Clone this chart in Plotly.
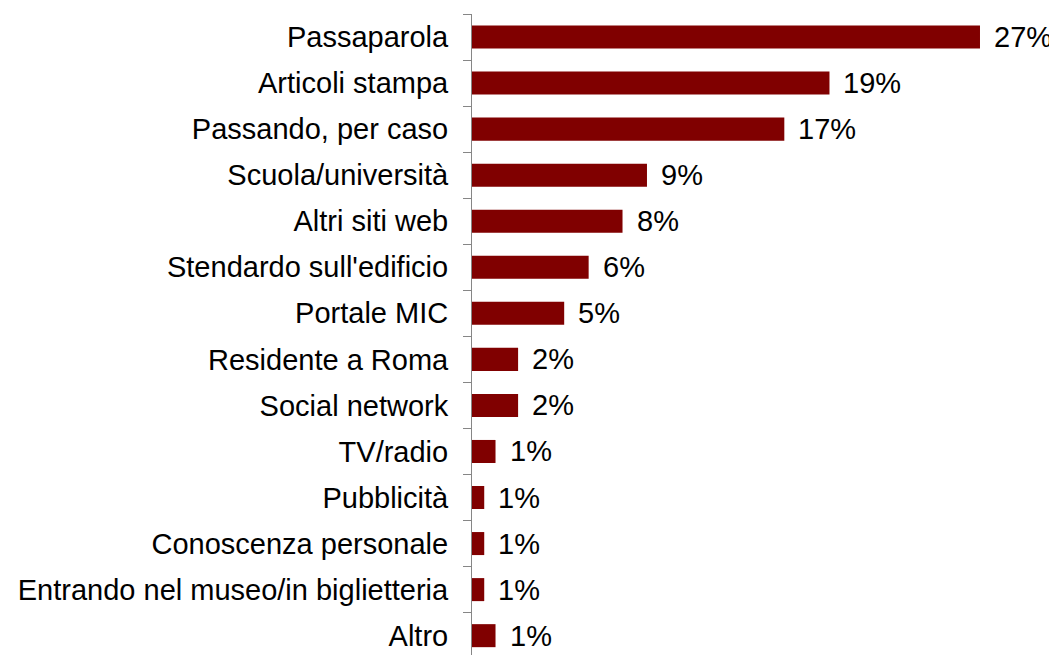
import plotly.graph_objects as go

categories = ["Passaparola", "Articoli stampa", "Passando, per caso", "Scuola/università",
              "Altri siti web", "Stendardo sull'edificio", "Portale MIC", "Residente a Roma",
              "Social network", "TV/radio", "Pubblicità", "Conoscenza personale",
              "Entrando nel museo/in biglietteria", "Altro"]
values = [27.0, 19.0, 16.6, 9.3, 8.0, 6.2, 4.9, 2.45, 2.45, 1.25, 0.65, 0.65, 0.65, 1.25]
labels = ["27%", "19%", "17%", "9%", "8%", "6%", "5%", "2%", "2%", "1%", "1%", "1%", "1%", "1%"]

FONT = "Liberation Sans, Arial, sans-serif"
SIZE = 29

fig = go.Figure(go.Bar(
    x=values, y=categories, orientation="h",
    marker=dict(color="#800000", line=dict(width=0)),
    width=0.5,
))

for c, v, t in zip(categories, values, labels):
    fig.add_annotation(x=v, y=c, text=t, showarrow=False, xanchor="left",
                       xshift=12, font=dict(family=FONT, size=SIZE, color="black"))

# page body has an 8px margin, so the figure is sized to fit the window
fig.update_layout(
    width=1049, height=647,
    margin=dict(l=464, r=20, t=6, b=0, autoexpand=False),
    plot_bgcolor="white", paper_bgcolor="white",
    showlegend=False,
    font=dict(family=FONT, size=SIZE, color="black"),
    bargap=0.5,
)
fig.update_xaxes(range=[0, 30.03], visible=False, showgrid=False, zeroline=False,
                 automargin=False)
fig.update_yaxes(
    type="category", range=[13.42, -0.5], showgrid=False, zeroline=False,
    automargin=False,
    showline=True, linecolor="#868686", linewidth=1,
    ticks="outside", tickson="boundaries", ticklen=8, tickcolor="#868686", tickwidth=1,
    ticklabelstandoff=17,
    tickfont=dict(family=FONT, size=SIZE, color="black"),
)

fig.write_html("out.html")
